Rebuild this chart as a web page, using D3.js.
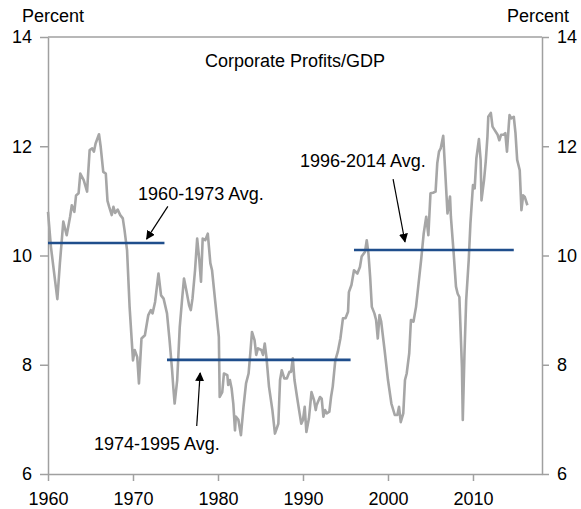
<!DOCTYPE html>
<html lang="en">
<head>
    <meta charset="UTF-8">
    <title>Corporate Profits/GDP</title>
    <script src="https://d3js.org/d3.v7.min.js"></script>
    <style>
        body { margin: 0; background: #fff; }
        svg text { font-family: "Liberation Sans", Arial, sans-serif; fill: #000; }
        .axis path, .axis line { stroke: #a0a0a0; stroke-width: 1.5; }
        .axis text { font-size: 18px; }
    </style>
</head>
<body>
<div id="chart"></div>
<script>
// quarterly readings (approximate)
const years = [
    1960.0, 1960.35, 1961.1, 1961.4, 1961.8, 1962.2, 1962.6, 1962.8, 1963.1, 1963.3,
    1963.6, 1963.8, 1964.2, 1964.6, 1964.7, 1964.9, 1965.2, 1965.4, 1965.6, 1966.0,
    1966.2, 1966.5, 1966.8, 1967.0, 1967.2, 1967.5, 1967.7, 1967.9, 1968.2, 1968.5,
    1968.8, 1969.0, 1969.3, 1969.6, 1970.0, 1970.2, 1970.5, 1970.7, 1971.0, 1971.4,
    1971.8, 1972.1, 1972.3, 1972.6, 1973.0, 1973.3, 1973.6, 1974.0, 1974.3, 1974.6,
    1974.75, 1974.9, 1975.2, 1975.5, 1975.8, 1976.0, 1976.3, 1976.6, 1976.8, 1977.0,
    1977.3, 1977.55, 1977.8, 1978.0, 1978.2, 1978.5, 1978.8, 1979.1, 1979.3, 1979.7,
    1980.1, 1980.2, 1980.5, 1980.7, 1981.1, 1981.2, 1981.4, 1981.6, 1981.8, 1982.0,
    1982.1, 1982.4, 1982.7, 1983.0, 1983.3, 1983.6, 1983.8, 1984.0, 1984.3, 1984.5,
    1984.7, 1985.1, 1985.3, 1985.5, 1985.7, 1986.0, 1986.4, 1986.7, 1987.1, 1987.3,
    1987.5, 1987.8, 1988.1, 1988.4, 1988.6, 1988.8, 1989.0, 1989.3, 1989.6, 1989.8,
    1990.0, 1990.2, 1990.4, 1990.7, 1991.0, 1991.3, 1991.5, 1991.6, 1992.0, 1992.2,
    1992.4, 1992.6, 1992.8, 1993.1, 1993.3, 1993.5, 1993.8, 1994.1, 1994.4, 1994.7,
    1995.0, 1995.3, 1995.4, 1995.7, 1996.0, 1996.4, 1996.7, 1996.9, 1997.3, 1997.5,
    1997.7, 1997.9, 1998.1, 1998.4, 1998.6, 1998.8, 1999.0, 1999.2, 1999.6, 2000.0,
    2000.4, 2000.8, 2001.1, 2001.3, 2001.5, 2001.8, 2002.0, 2002.2, 2002.5, 2002.7,
    2003.0, 2003.3, 2003.6, 2003.9, 2004.2, 2004.5, 2004.75, 2005.0, 2005.3, 2005.6,
    2005.8, 2006.0, 2006.2, 2006.5, 2006.7, 2007.0, 2007.3, 2007.4, 2007.7, 2008.0,
    2008.2, 2008.4, 2008.7, 2008.8, 2009.0, 2009.2, 2009.5, 2009.7, 2010.0, 2010.2,
    2010.4, 2010.7, 2010.9, 2011.0, 2011.3, 2011.5, 2011.7, 2011.8, 2012.1, 2012.3,
    2012.5, 2012.9, 2013.1, 2013.3, 2013.6, 2013.8, 2014.0, 2014.2, 2014.3, 2014.5,
    2014.8, 2015.0, 2015.2, 2015.5, 2015.7, 2015.9, 2016.1, 2016.4
];
const profitShare = [
    10.80, 10.15, 9.20, 9.86, 10.62, 10.37, 10.71, 10.92, 10.80, 11.10,
    11.14, 11.50, 11.38, 11.17, 11.44, 11.93, 11.96, 11.90, 12.05, 12.22,
    11.99, 11.53, 11.50, 11.00, 10.89, 10.74, 10.89, 10.78, 10.84, 10.74,
    10.68, 10.47, 10.10, 9.06, 8.08, 8.27, 8.14, 7.66, 8.48, 8.54,
    8.91, 9.00, 8.94, 9.15, 9.67, 9.27, 9.21, 8.94, 8.45, 7.90,
    7.57, 7.29, 7.72, 8.69, 9.24, 9.58, 9.34, 9.09, 9.00, 9.21,
    9.73, 10.31, 9.92, 9.52, 10.31, 10.28, 10.40, 9.86, 9.73, 9.12,
    8.51, 7.41, 7.50, 7.84, 7.81, 7.63, 7.72, 7.57, 7.29, 6.80,
    7.05, 6.99, 6.71, 7.23, 7.66, 7.84, 8.21, 8.60, 8.45, 8.18,
    8.30, 8.27, 8.18, 8.39, 8.14, 7.60, 7.17, 6.74, 6.92, 7.72,
    7.90, 7.75, 7.75, 7.87, 7.87, 8.12, 7.72, 7.41, 7.11, 6.92,
    6.99, 7.23, 6.77, 7.02, 7.50, 7.35, 7.17, 7.26, 7.41, 7.38,
    7.05, 7.17, 7.11, 7.14, 7.41, 7.60, 8.08, 8.24, 8.48, 8.85,
    8.85, 8.97, 9.33, 9.46, 9.73, 9.67, 9.79, 9.98, 10.07, 10.28,
    10.04, 9.61, 9.06, 8.94, 8.82, 8.48, 8.91, 8.79, 8.27, 7.72,
    7.29, 7.08, 7.08, 7.23, 6.95, 7.11, 7.72, 7.84, 8.21, 8.82,
    8.79, 9.06, 9.49, 9.92, 10.40, 10.71, 10.37, 11.14, 11.15, 11.17,
    11.69, 11.90, 11.96, 12.19, 11.63, 10.77, 11.08, 10.71, 10.10, 9.43,
    9.30, 9.24, 7.96, 6.99, 8.21, 9.18, 9.92, 10.59, 11.29, 11.23,
    11.78, 12.13, 11.75, 11.01, 11.38, 11.72, 12.17, 12.54, 12.61, 12.36,
    12.31, 12.21, 12.11, 12.21, 12.21, 12.24, 11.90, 12.36, 12.57, 12.51,
    12.54, 12.24, 11.75, 11.56, 10.83, 11.10, 11.07, 10.92
];

// period averages
const avgLabels = ["1960-1973 Avg.", "1974-1995 Avg.", "1996-2014 Avg."];
const avgStart = [1960, 1974, 1996];
const avgEnd = [1973.7, 1995.6, 2014.8];
const avgValue = [10.23, 8.09, 10.10];

// annotation placement, in data units
const labelYear = [1970.6, 1965.4, 1989.65];
const labelValue = [11.01, 6.44, 11.62];
const arrowFrom = [[1974.1, 10.90], [1977.5, 6.88], [2000.6, 11.40]];
const arrowTo = [[1971.6, 10.30], [1977.9, 7.85], [2002.0, 10.25]];

const xTicks = [1960, 1970, 1980, 1990, 2000, 2010];
const yTicks = [6, 8, 10, 12, 14];

const width = 581, height = 509;
const plotLeft = 48, plotRight = 542, plotTop = 37, plotBottom = 474;

const svg = d3.select("#chart").append("svg")
    .attr("width", width)
    .attr("height", height);

const x = d3.scaleLinear().domain([1960, 2018.12]).range([plotLeft, plotRight]);
const y = d3.scaleLinear().domain([6, 14]).range([plotBottom, plotTop]);

svg.append("defs").append("marker")
    .attr("id", "arrow")
    .attr("viewBox", "0 0 10 10")
    .attr("refX", 9).attr("refY", 5)
    .attr("markerWidth", 9).attr("markerHeight", 9)
    .attr("markerUnits", "userSpaceOnUse")
    .attr("orient", "auto")
    .append("path")
    .attr("d", "M0,0 L10,5 L0,10 z")
    .attr("fill", "#000");

// frame top
svg.append("line")
    .attr("x1", plotLeft).attr("x2", plotRight)
    .attr("y1", plotTop).attr("y2", plotTop)
    .attr("stroke", "#a0a0a0").attr("stroke-width", 1.5);

svg.append("g")
    .attr("class", "axis")
    .attr("transform", `translate(0,${plotBottom})`)
    .call(d3.axisBottom(x).tickValues(xTicks).tickFormat(d3.format("d"))
        .tickSize(7).tickSizeOuter(0).tickPadding(11));

svg.append("g")
    .attr("class", "axis")
    .attr("transform", `translate(${plotLeft},0)`)
    .call(d3.axisLeft(y).tickValues(yTicks).tickSize(8).tickSizeOuter(0).tickPadding(8));

svg.append("g")
    .attr("class", "axis")
    .attr("transform", `translate(${plotRight},0)`)
    .call(d3.axisRight(y).tickValues(yTicks).tickSize(7).tickSizeOuter(0).tickPadding(8));

svg.selectAll(".axis .domain").attr("stroke", "#a0a0a0");

// unit labels
svg.append("text").attr("x", 22).attr("y", 22).style("font-size", "18px").text("Percent");
svg.append("text").attr("x", 569).attr("y", 22).attr("text-anchor", "end")
    .style("font-size", "18px").text("Percent");

svg.append("text")
    .attr("x", 295).attr("y", 67)
    .attr("text-anchor", "middle")
    .style("font-size", "18px")
    .text("Corporate Profits/GDP");

const series = years.map((yr, i) => ({ year: yr, value: profitShare[i] }));

const line = d3.line()
    .x(d => x(d.year))
    .y(d => y(d.value));

svg.append("path")
    .datum(series)
    .attr("fill", "none")
    .attr("stroke", "#a6a6a6")
    .attr("stroke-width", 2.6)
    .attr("stroke-linejoin", "round")
    .attr("d", line);

// average lines
svg.selectAll(".avg")
    .data(avgValue)
    .enter().append("line")
    .attr("class", "avg")
    .attr("x1", (d, i) => x(avgStart[i]))
    .attr("x2", (d, i) => x(avgEnd[i]))
    .attr("y1", d => y(d))
    .attr("y2", d => y(d))
    .attr("stroke", "#1f4e8c")
    .attr("stroke-width", 2.6);

svg.selectAll(".avg-label")
    .data(avgLabels)
    .enter().append("text")
    .attr("class", "avg-label")
    .attr("x", (d, i) => x(labelYear[i]))
    .attr("y", (d, i) => y(labelValue[i]))
    .style("font-size", "18px")
    .text(d => d);

svg.selectAll(".arrow")
    .data(arrowFrom)
    .enter().append("line")
    .attr("class", "arrow")
    .attr("x1", d => x(d[0]))
    .attr("y1", d => y(d[1]))
    .attr("x2", (d, i) => x(arrowTo[i][0]))
    .attr("y2", (d, i) => y(arrowTo[i][1]))
    .attr("stroke", "#000")
    .attr("stroke-width", 1.2)
    .attr("marker-end", "url(#arrow)");
</script>
</body>
</html>
